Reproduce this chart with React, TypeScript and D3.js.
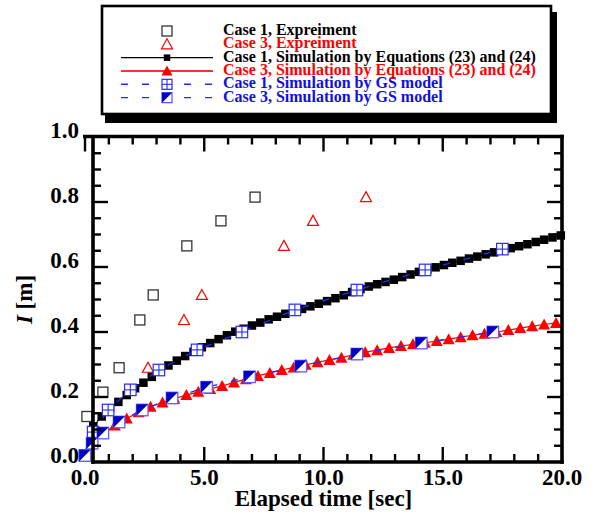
import React from "react";
import * as d3 from "d3";

// ---------- data ----------
const expCase1T = [0.08, 0.75, 1.43, 2.3, 2.86, 4.27, 5.7, 7.13];
const expCase1I = [0.14, 0.215, 0.29, 0.437, 0.514, 0.665, 0.742, 0.815];

const expCase3T = [2.64, 4.15, 4.9, 8.34, 9.56, 11.78];
const expCase3I = [0.29, 0.437, 0.514, 0.665, 0.742, 0.815];

const simEq1T = [0, 0.35, 0.7, 1.05, 1.4, 1.75, 2.1, 2.45, 2.8, 3.15, 3.5, 3.85, 4.2, 4.55, 4.9, 5.25, 5.6, 5.95, 6.3, 6.65, 7.0, 7.35, 7.7, 8.05, 8.4, 8.75, 9.1, 9.45, 9.8, 10.15, 10.5, 10.85, 11.2, 11.55, 11.9, 12.25, 12.6, 12.95, 13.3, 13.65, 14.0, 14.35, 14.7, 15.05, 15.4, 15.75, 16.1, 16.45, 16.8, 17.15, 17.5, 17.85, 18.2, 18.55, 18.9, 19.25, 19.6, 19.95];
const simEq1I = [0.02, 0.11, 0.14, 0.165, 0.185, 0.206, 0.227, 0.244, 0.262, 0.281, 0.297, 0.312, 0.326, 0.339, 0.353, 0.366, 0.378, 0.39, 0.401, 0.41, 0.42, 0.429, 0.439, 0.447, 0.456, 0.464, 0.471, 0.479, 0.487, 0.495, 0.504, 0.513, 0.523, 0.532, 0.54, 0.547, 0.554, 0.561, 0.569, 0.577, 0.585, 0.592, 0.599, 0.606, 0.613, 0.619, 0.626, 0.632, 0.639, 0.645, 0.652, 0.658, 0.664, 0.67, 0.677, 0.684, 0.691, 0.697];

const simEq3T = [0.25, 0.75, 1.25, 1.75, 2.25, 2.75, 3.25, 3.75, 4.25, 4.75, 5.25, 5.75, 6.25, 6.75, 7.25, 7.75, 8.25, 8.75, 9.25, 9.75, 10.25, 10.75, 11.25, 11.75, 12.25, 12.75, 13.25, 13.75, 14.25, 14.75, 15.25, 15.75, 16.25, 16.75, 17.25, 17.75, 18.25, 18.75, 19.25, 19.75];
const simEq3I = [0.055, 0.087, 0.112, 0.134, 0.153, 0.17, 0.183, 0.195, 0.206, 0.216, 0.225, 0.234, 0.245, 0.255, 0.265, 0.274, 0.283, 0.291, 0.299, 0.307, 0.314, 0.321, 0.33, 0.338, 0.344, 0.351, 0.357, 0.362, 0.367, 0.372, 0.378, 0.384, 0.39, 0.395, 0.4, 0.406, 0.412, 0.418, 0.423, 0.428];

const gs1T = [0, 0.34, 0.97, 1.9, 3.1, 4.7, 6.58, 8.8, 11.4, 14.26, 17.5];
const gs1I = [0.02, 0.092, 0.16, 0.222, 0.283, 0.345, 0.4, 0.468, 0.529, 0.591, 0.655];

const gs3T = [0, 0.3, 0.75, 1.43, 2.4, 3.65, 5.1, 6.9, 9.05, 11.4, 14.1, 17.1];
const gs3I = [0.02, 0.058, 0.089, 0.123, 0.16, 0.197, 0.23, 0.262, 0.295, 0.332, 0.366, 0.4];

const xTickLabels = ["0.0", "5.0", "10.0", "15.0", "20.0"];
const yTickLabels = ["0.0", "0.2", "0.4", "0.6", "0.8", "1.0"];

const legendLabels = [
  "Case 1, Expreiment",
  "Case 3, Expreiment",
  "Case 1, Simulation by Equations (23) and (24)",
  "Case 3, Simulation by Equations (23) and (24)",
  "Case 1, Simulation by GS model",
  "Case 3, Simulation by GS model",
];
const legendColors = ["#000000", "#ff0000", "#000000", "#ff0000", "#1010e0", "#1010e0"];

// ---------- styling ----------
const FONT = "'Liberation Serif','Times New Roman',Times,serif";
const BLUE = "#2a2aff";
const BLUE_DARK = "#0000c0";
const BLUE_LIGHT = "#5c5cff";

const x = d3.scaleLinear().domain([0, 20]).range([85, 562]);
const y = d3.scaleLinear().domain([0, 1]).range([462, 137]);

function zip(ts: number[], vs: number[]) {
  return ts.map((t, i) => [t, vs[i]] as [number, number]);
}

function OpenSquare({ cx, cy, s = 10 }: any) {
  return <rect x={cx - s / 2} y={cy - s / 2} width={s} height={s} fill="white" stroke="#333" strokeWidth={1.3} />;
}
function OpenTriangle({ cx, cy, w = 11, h = 10 }: any) {
  return (
    <path
      d={`M${cx},${cy - h / 2 - 0.5}L${cx + w / 2},${cy + h / 2 - 0.5}L${cx - w / 2},${cy + h / 2 - 0.5}Z`}
      fill="white"
      stroke="#ff0000"
      strokeWidth={1.2}
    />
  );
}
function FilledSquare({ cx, cy, s = 8.5 }: any) {
  return <rect x={cx - s / 2} y={cy - s / 2} width={s} height={s} fill="#000" />;
}
function FilledTriangle({ cx, cy, w = 12, h = 11 }: any) {
  return (
    <path
      d={`M${cx},${cy - h / 2 - 0.5}L${cx + w / 2},${cy + h / 2 - 0.5}L${cx - w / 2},${cy + h / 2 - 0.5}Z`}
      fill="#ff0000"
    />
  );
}
function GridSquare({ cx, cy, s = 11.5 }: any) {
  return (
    <g>
      <rect x={cx - s / 2} y={cy - s / 2} width={s} height={s} fill="white" stroke={BLUE} strokeWidth={1.2} />
      <line x1={cx} x2={cx} y1={cy - s / 2} y2={cy + s / 2} stroke={BLUE} strokeWidth={1.1} />
      <line x1={cx - s / 2} x2={cx + s / 2} y1={cy} y2={cy} stroke={BLUE} strokeWidth={1.1} />
    </g>
  );
}
function HalfSquare({ cx, cy, s = 11.5 }: any) {
  const l = cx - s / 2, r = cx + s / 2, t = cy - s / 2, b = cy + s / 2;
  return (
    <g>
      <rect x={l} y={t} width={s} height={s} fill="white" stroke={BLUE_LIGHT} strokeWidth={1.3} />
      <path d={`M${l},${t}L${r},${t}L${l},${b}Z`} fill={BLUE_DARK} />
    </g>
  );
}

export default function App() {
  const line = d3.line<[number, number]>().x((d) => x(d[0])).y((d) => y(d[1]));

  const e1 = zip(expCase1T, expCase1I);
  const e3 = zip(expCase3T, expCase3I);
  const s1 = zip(simEq1T, simEq1I);
  const s3 = zip(simEq3T, simEq3I);
  const g1 = zip(gs1T, gs1I);
  const g3 = zip(gs3T, gs3I);

  const xMinor = d3.range(0, 20, 1);
  const yMinor = d3.range(1, 20).map((k) => k * 0.05);

  const top = y(1) - 0.5;
  const bottom = y(0);
  const leftAxis = 93;
  const rightAxis = x(20);
  const AX = 3.6;
  const TK = 2.4;

  // legend geometry
  const lgX0 = 121, lgX1 = 213, lgC = 167, lgText = 223;
  const lgBase = (i: number) => 35 + i * 13.33;

  return (
    <svg width={595} height={515} style={{ position: "absolute", left: 0, top: 0, background: "white" }}>
      <rect x={0} y={0} width={595} height={515} fill="white" />

      {/* legend */}
      <rect x={105} y={12} width={452} height={111} fill="#000" />
      <rect x={102} y={6} width={449} height={108} fill="white" stroke="#000" strokeWidth={2.6} />
      {legendLabels.map((lab, i) => (
        <text key={lab} x={lgText} y={lgBase(i)} fontFamily={FONT} fontWeight="bold" fontSize={16} fill={legendColors[i]}>
          {lab}
        </text>
      ))}
      <OpenSquare cx={lgC} cy={lgBase(0) - 4} />
      <OpenTriangle cx={lgC} cy={lgBase(1) - 4} />
      <line x1={lgX0} x2={lgX1} y1={lgBase(2) - 4} y2={lgBase(2) - 4} stroke="#000" strokeWidth={1.2} />
      <FilledSquare cx={lgC} cy={lgBase(2) - 4} s={6.5} />
      <line x1={lgX0} x2={lgX1} y1={lgBase(3) - 4} y2={lgBase(3) - 4} stroke="#ff3030" strokeWidth={1.8} />
      <FilledTriangle cx={lgC} cy={lgBase(3) - 4} w={11} h={10} />
      <line x1={lgX0} x2={lgX1} y1={lgBase(4) - 4} y2={lgBase(4) - 4} stroke={BLUE} strokeWidth={1.4} strokeDasharray="7,14" />
      <GridSquare cx={lgC} cy={lgBase(4) - 4} s={10} />
      <line x1={lgX0} x2={lgX1} y1={lgBase(5) - 4} y2={lgBase(5) - 4} stroke={BLUE} strokeWidth={1.4} strokeDasharray="7,14" />
      <HalfSquare cx={lgC} cy={lgBase(5) - 4} s={10} />

      {/* data */}
      {e1.map((d, i) => <OpenSquare key={"e1" + i} cx={x(d[0])} cy={y(d[1])} />)}
      {e3.map((d, i) => <OpenTriangle key={"e3" + i} cx={x(d[0])} cy={y(d[1])} />)}

      <path d={line(s1) || ""} fill="none" stroke="#000" strokeWidth={1.1} />
      {s1.map((d, i) => <FilledSquare key={"s1" + i} cx={x(d[0])} cy={y(d[1])} />)}

      <path d={line(s3) || ""} fill="none" stroke="#ff0000" strokeWidth={1.2} />
      {s3.map((d, i) => <FilledTriangle key={"s3" + i} cx={x(d[0])} cy={y(d[1])} />)}

      <path d={line(g1) || ""} fill="none" stroke={BLUE} strokeWidth={1.3} strokeDasharray="7,14" />
      {g1.map((d, i) => <GridSquare key={"g1" + i} cx={x(d[0])} cy={y(d[1])} />)}

      <path d={line(g3) || ""} fill="none" stroke={BLUE} strokeWidth={1.3} strokeDasharray="7,14" />
      {g3.map((d, i) => <HalfSquare key={"g3" + i} cx={x(d[0])} cy={y(d[1])} />)}

      {/* ticks: top & bottom */}
      {xMinor.map((v) => {
        const major = v % 5 === 0;
        const len = major ? 15 : 8;
        return (
          <g key={"xt" + v}>
            <line x1={x(v)} x2={x(v)} y1={top} y2={top + len} stroke="#000" strokeWidth={TK} />
            {x(v) > leftAxis + 2 && (
              <line x1={x(v)} x2={x(v)} y1={bottom} y2={bottom - len} stroke="#000" strokeWidth={TK} />
            )}
          </g>
        );
      })}
      {/* ticks: left & right */}
      {yMinor.map((v, k) => {
        const major = (k + 1) % 4 === 0;
        const len = major ? 15 : 8;
        return (
          <g key={"yt" + k}>
            <line x1={leftAxis} x2={leftAxis + len} y1={y(v)} y2={y(v)} stroke="#000" strokeWidth={TK} />
            <line x1={rightAxis} x2={rightAxis - len} y1={y(v)} y2={y(v)} stroke="#000" strokeWidth={TK} />
          </g>
        );
      })}

      {/* frame */}
      <line x1={83} x2={rightAxis + AX / 2} y1={top} y2={top} stroke="#000" strokeWidth={AX} />
      <line x1={leftAxis - AX / 2} x2={rightAxis + AX / 2} y1={bottom} y2={bottom} stroke="#000" strokeWidth={AX} />
      <line x1={leftAxis} x2={leftAxis} y1={top} y2={bottom + AX / 2} stroke="#000" strokeWidth={AX} />
      <line x1={rightAxis} x2={rightAxis} y1={top - AX / 2} y2={bottom + AX / 2} stroke="#000" strokeWidth={AX} />

      {/* tick labels */}
      {xTickLabels.map((lab, i) => (
        <text key={lab} x={x(i * 5)} y={485} textAnchor="middle" fontFamily={FONT} fontWeight="bold" fontSize={23}>
          {lab}
        </text>
      ))}
      {yTickLabels.map((lab, i) => (
        <text key={lab} x={79} y={y(i * 0.2) + 1} textAnchor="end" fontFamily={FONT} fontWeight="bold" fontSize={23}>
          {lab}
        </text>
      ))}

      {/* axis titles */}
      <text x={(x(0) + x(20)) / 2} y={506} textAnchor="middle" fontFamily={FONT} fontWeight="bold" fontSize={23}>
        Elapsed time [sec]
      </text>
      <text
        transform={`translate(32,${(y(0) + y(1)) / 2}) rotate(-90)`}
        textAnchor="middle"
        fontFamily={FONT}
        fontWeight="bold"
        fontSize={23}
      >
        <tspan fontStyle="italic">I</tspan>
        <tspan>{"  [m]"}</tspan>
      </text>
    </svg>
  );
}
